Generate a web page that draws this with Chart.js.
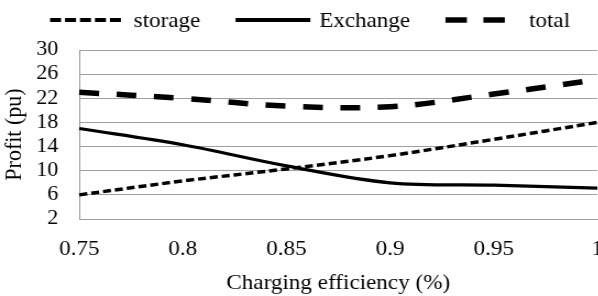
<!DOCTYPE html>
<html>
<head>
<meta charset="utf-8">
<script src="https://cdn.jsdelivr.net/npm/chart.js@4"></script>
<style>
  html, body { margin: 0; padding: 0; background: #fff; overflow: hidden; }
  /* the reference is a little wider than tall, so stretch the drawing sideways */
  #wrap { width: 552px; height: 296px; transform: scaleX(1.1); transform-origin: 0 0; }
</style>
</head>
<body>
<div id="wrap"><canvas id="myChart"></canvas></div>
<script>
const efficiency = ['0.75', '0.8', '0.85', '0.9', '0.95', '1'];
const storage = [6, 8.3, 10.3, 12.5, 15.2, 18];
const exchange = [17, 14.3, 10.8, 8, 7.6, 7.1];
const total = [23, 22, 20.7, 20.6, 22.7, 25.1];
const yTicks = [2, 6, 10, 14, 18, 22, 26, 30];

const serif = "'Liberation Serif', 'DejaVu Serif', serif";

// legend row drawn by hand, Excel style (long line sample, wide gaps)
const lineLegend = {
    id: 'lineLegend',
    afterDraw(chart) {
        const ctx = chart.ctx;
        ctx.save();
        ctx.font = '21px ' + serif;
        ctx.textBaseline = 'middle';
        ctx.fillStyle = '#000';
        let x = 45.5;
        const y = 20;
        chart.data.datasets.forEach(ds => {
            ctx.beginPath();
            ctx.setLineDash(ds.legendDash || []);
            ctx.lineWidth = ds.legendWidth;
            ctx.strokeStyle = ds.borderColor;
            ctx.moveTo(x, y);
            ctx.lineTo(x + 68, y);
            ctx.stroke();
            ctx.setLineDash([]);
            ctx.fillText(ds.label, x + 76, y + 1);
            x += 76 + ctx.measureText(ds.label).width + 32;
        });
        ctx.restore();
    }
};

function draw() {
    const ctx = document.getElementById('myChart').getContext('2d');
    const myChart = new Chart(ctx, {
        type: 'line',
        data: {
            labels: efficiency,
            datasets: [
                {
                    label: 'storage',
                    data: storage,
                    borderColor: '#000',
                    borderWidth: 3.5,
                    borderDash: [7.3, 3.6],
                    legendDash: [10, 3.6],
                    legendWidth: 4,
                    pointRadius: 0,
                    tension: 0.35,
                    fill: false,
                },
                {
                    label: 'Exchange',
                    data: exchange,
                    borderColor: '#000',
                    borderWidth: 3.2,
                    legendWidth: 4,
                    pointRadius: 0,
                    tension: 0.35,
                    fill: false,
                },
                {
                    label: 'total',
                    data: total,
                    borderColor: '#000',
                    borderWidth: 5.5,
                    borderDash: [18, 16],
                    legendDash: [19.5, 15],
                    legendWidth: 5.5,
                    pointRadius: 0,
                    tension: 0.35,
                    fill: false,
                },
            ]
        },
        options: {
            responsive: true,
            maintainAspectRatio: false,
            animation: false,
            devicePixelRatio: 1,
            // the right edge is cut off in the reference, the "1" label runs past the window
            layout: { padding: { top: 50, left: 0, right: 9, bottom: 0 } },
            plugins: {
                legend: { display: false },
                tooltip: { enabled: false },
            },
            scales: {
                x: {
                    grid: { display: false },
                    border: { display: true, color: '#a0a0a0', width: 1 },
                    ticks: {
                        color: '#000',
                        font: { family: serif, size: 21 },
                        padding: 10,
                        maxRotation: 0,
                        autoSkip: false,
                    },
                    title: {
                        display: true,
                        text: 'Charging efficiency (%)',
                        color: '#000',
                        font: { family: serif, size: 21 },
                        padding: { top: 0, bottom: 0 },
                    },
                    afterFit: s => {
                        s.height = 77;
                        s.paddingLeft = 0;
                        s.paddingRight = 0;
                    },
                },
                y: {
                    min: 2,
                    max: 30,
                    afterBuildTicks: s => { s.ticks = yTicks.map(v => ({ value: v })); },
                    grid: { color: '#a0a0a0', lineWidth: 1, drawTicks: false },
                    border: { display: true, color: '#999', width: 1 },
                    ticks: {
                        color: '#000',
                        font: { family: serif, size: 20 },
                        padding: 19,
                        autoSkip: false,
                    },
                    title: {
                        display: true,
                        text: 'Profit (pu)',
                        color: '#000',
                        font: { family: serif, size: 22 },
                        padding: { top: 0, bottom: 0 },
                    },
                    afterFit: s => { s.width = 72; },
                },
            },
        },
        plugins: [lineLegend],
    });
}

document.fonts.load("21px 'Liberation Serif'").then(draw, draw);
</script>
</body>
</html>
